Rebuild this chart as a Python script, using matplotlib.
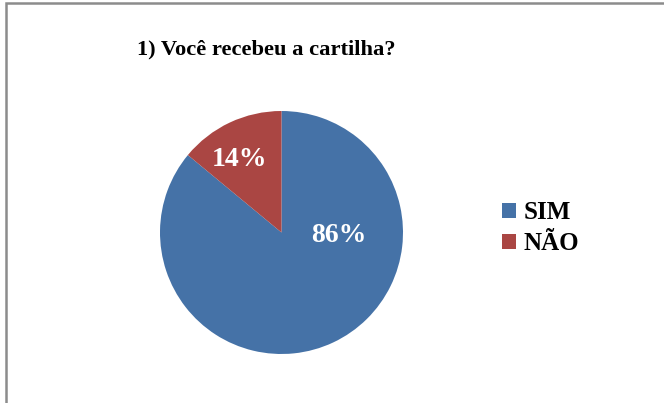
import matplotlib
matplotlib.use("Agg")
import matplotlib.pyplot as plt
from matplotlib.patches import Rectangle

# data
categories = ["SIM", "NÃO"]
values = [86, 14]
colors = ["#4572A7", "#AA4643"]
title = "1) Você recebeu a cartilha?"

W, H = 664, 403
plt.rcParams["font.family"] = ["Liberation Serif", "DejaVu Serif"]

fig = plt.figure(figsize=(W / 100, H / 100), dpi=100)
ax = fig.add_axes([0, 0, 1, 1])

# chart border (only top/left visible in the crop)
fig.patches.append(Rectangle((6 / W, -0.1), 1.2, (H - 3) / H + 0.1,
                             transform=fig.transFigure, fill=False,
                             edgecolor="#8c8c8c", linewidth=1.8))

cx, cy, r = 281.5, H - 232.5, 121.5
wedges, texts, autotexts = ax.pie(
    values, colors=colors, startangle=90, counterclock=False,
    center=(cx, cy), radius=r, autopct="%1.0f%%",
    textprops=dict(color="white", fontsize=20, fontweight="bold"),
    frame=True,
)
ax.set_xlim(0, W)
ax.set_ylim(0, H)
ax.set_aspect("equal")
ax.axis("off")

# label positions as in the original (Excel style)
autotexts[0].set_position((339, H - 235))
autotexts[1].set_position((239, H - 159))

ax.text(266, H - 54, title, ha="center", va="baseline",
        fontsize=16.2, fontweight="bold")

ax.legend(wedges, categories, loc="center left",
          bbox_to_anchor=(502 / W, 1 - 228 / H), frameon=False,
          prop=dict(size=18, weight="bold"), handlelength=0.55,
          handleheight=0.55, handletextpad=0.3, labelspacing=0.32,
          borderaxespad=0, borderpad=0)

fig.savefig("out.png", dpi=100)
